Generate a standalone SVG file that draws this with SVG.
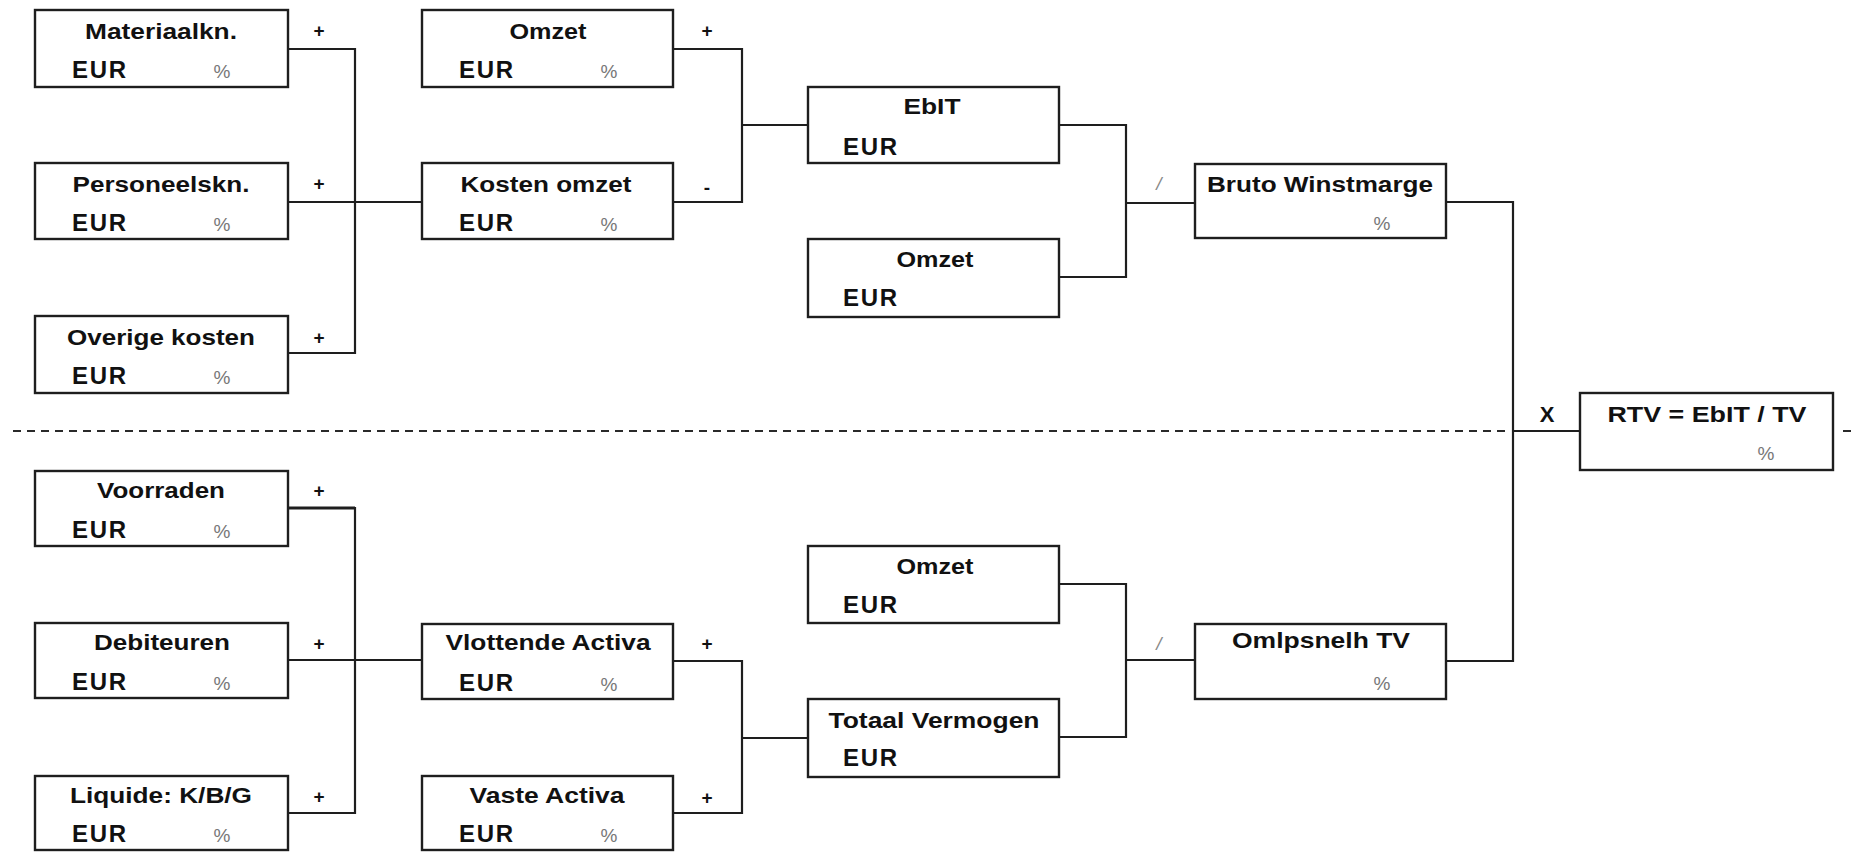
<svg xmlns="http://www.w3.org/2000/svg" width="1851" height="852" viewBox="0 0 1851 852">
<style>
  .box { fill: #ffffff; stroke: #1e1e1e; stroke-width: 2.4; }
  .conn { fill: none; stroke: #1e1e1e; stroke-width: 2.2; }
  .dash { fill: none; stroke: #2a2a2a; stroke-width: 2; stroke-dasharray: 8 6; }
  .title { font-family: "Liberation Sans", Arial, sans-serif; font-weight: bold; font-size: 22.5px; fill: #111; text-anchor: middle; }
  .eur { font-family: "Liberation Sans", Arial, sans-serif; font-weight: bold; font-size: 24px; fill: #111; }
  .pct { font-family: "Liberation Sans", Arial, sans-serif; font-size: 19px; fill: #777; text-anchor: middle; }
  .op { font-family: "Liberation Sans", Arial, sans-serif; font-weight: bold; font-size: 19px; fill: #111; text-anchor: middle; }
  .slash { font-family: "Liberation Sans", Arial, sans-serif; font-size: 19px; fill: #888; text-anchor: middle; }
  .x { font-family: "Liberation Sans", Arial, sans-serif; font-weight: bold; font-size: 22px; fill: #111; text-anchor: middle; }
</style>
<rect width="1851" height="852" fill="#ffffff"/>

<g id="connectors">
  <path class="dash" d="M13 431 H1507 M1843 431 H1851"/>
  <path class="conn" d="M288 49 H355 V353 H288 M288 202 H422"/>
  <path class="conn" d="M673 49 H742 V202 H673 M742 125 H808"/>
  <path class="conn" d="M1059 125 H1126 V277 H1059 M1126 203 H1195"/>
  <path class="conn" d="M1446 202 H1513 V661 H1446 M1513 431 H1580"/>
  <path class="conn" d="M288 508 H355 V813 H288 M288 660 H422"/>
  <path class="conn" style="stroke-width:3" d="M288 508 H355"/>
  <path class="conn" d="M673 661 H742 V813 H673 M742 738 H808"/>
  <path class="conn" d="M1059 584 H1126 V737 H1059 M1126 660 H1195"/>
</g>

<g id="operators">
  <text class="op" x="319" y="37">+</text>
  <text class="op" x="319" y="190">+</text>
  <text class="op" x="319" y="344">+</text>
  <text class="op" x="319" y="497">+</text>
  <text class="op" x="319" y="650">+</text>
  <text class="op" x="319" y="803">+</text>
  <text class="op" x="707" y="37">+</text>
  <text class="op" x="707" y="194">-</text>
  <text class="op" x="707" y="650">+</text>
  <text class="op" x="707" y="804">+</text>
  <text class="slash" x="1159" y="190" font-style="italic">/</text>
  <text class="slash" x="1159" y="650" font-style="italic">/</text>
  <text class="x" x="1547" y="422">X</text>
</g>

<g id="materiaalkn">
  <rect class="box" x="35" y="10" width="253" height="77"/>
  <text class="title" x="161" y="39" textLength="152" lengthAdjust="spacingAndGlyphs">Materiaalkn.</text>
  <text class="eur" x="72" y="78" textLength="54">EUR</text>
  <text class="pct" x="222" y="78">%</text>
</g>
<g id="personeelskn">
  <rect class="box" x="35" y="163" width="253" height="76"/>
  <text class="title" x="161" y="192" textLength="177" lengthAdjust="spacingAndGlyphs">Personeelskn.</text>
  <text class="eur" x="72" y="231" textLength="54">EUR</text>
  <text class="pct" x="222" y="231">%</text>
</g>
<g id="overige-kosten">
  <rect class="box" x="35" y="316" width="253" height="77"/>
  <text class="title" x="161" y="345" textLength="188" lengthAdjust="spacingAndGlyphs">Overige kosten</text>
  <text class="eur" x="72" y="384" textLength="54">EUR</text>
  <text class="pct" x="222" y="384">%</text>
</g>
<g id="voorraden">
  <rect class="box" x="35" y="471" width="253" height="75"/>
  <text class="title" x="161" y="498" textLength="128" lengthAdjust="spacingAndGlyphs">Voorraden</text>
  <text class="eur" x="72" y="538" textLength="54">EUR</text>
  <text class="pct" x="222" y="538">%</text>
</g>
<g id="debiteuren">
  <rect class="box" x="35" y="623" width="253" height="75"/>
  <text class="title" x="162" y="650" textLength="136" lengthAdjust="spacingAndGlyphs">Debiteuren</text>
  <text class="eur" x="72" y="690" textLength="54">EUR</text>
  <text class="pct" x="222" y="690">%</text>
</g>
<g id="liquide">
  <rect class="box" x="35" y="776" width="253" height="74"/>
  <text class="title" x="161" y="803" textLength="182" lengthAdjust="spacingAndGlyphs">Liquide: K/B/G</text>
  <text class="eur" x="72" y="842" textLength="54">EUR</text>
  <text class="pct" x="222" y="842">%</text>
</g>

<g id="omzet-1">
  <rect class="box" x="422" y="10" width="251" height="77"/>
  <text class="title" x="548" y="39" textLength="77" lengthAdjust="spacingAndGlyphs">Omzet</text>
  <text class="eur" x="459" y="78" textLength="54">EUR</text>
  <text class="pct" x="609" y="78">%</text>
</g>
<g id="kosten-omzet">
  <rect class="box" x="422" y="163" width="251" height="76"/>
  <text class="title" x="546" y="192" textLength="171" lengthAdjust="spacingAndGlyphs">Kosten omzet</text>
  <text class="eur" x="459" y="231" textLength="54">EUR</text>
  <text class="pct" x="609" y="231">%</text>
</g>
<g id="vlottende-activa">
  <rect class="box" x="422" y="624" width="251" height="75"/>
  <text class="title" x="548" y="650" textLength="205" lengthAdjust="spacingAndGlyphs">Vlottende Activa</text>
  <text class="eur" x="459" y="691" textLength="54">EUR</text>
  <text class="pct" x="609" y="691">%</text>
</g>
<g id="vaste-activa">
  <rect class="box" x="422" y="776" width="251" height="74"/>
  <text class="title" x="547" y="803" textLength="155" lengthAdjust="spacingAndGlyphs">Vaste Activa</text>
  <text class="eur" x="459" y="842" textLength="54">EUR</text>
  <text class="pct" x="609" y="842">%</text>
</g>

<g id="ebit">
  <rect class="box" x="808" y="87" width="251" height="76"/>
  <text class="title" x="932" y="114" textLength="57" lengthAdjust="spacingAndGlyphs">EbIT</text>
  <text class="eur" x="843" y="155" textLength="54">EUR</text>
</g>
<g id="omzet-2">
  <rect class="box" x="808" y="239" width="251" height="78"/>
  <text class="title" x="935" y="267" textLength="77" lengthAdjust="spacingAndGlyphs">Omzet</text>
  <text class="eur" x="843" y="306" textLength="54">EUR</text>
</g>
<g id="omzet-3">
  <rect class="box" x="808" y="546" width="251" height="77"/>
  <text class="title" x="935" y="574" textLength="77" lengthAdjust="spacingAndGlyphs">Omzet</text>
  <text class="eur" x="843" y="613" textLength="54">EUR</text>
</g>
<g id="totaal-vermogen">
  <rect class="box" x="808" y="699" width="251" height="78"/>
  <text class="title" x="934" y="728" textLength="211" lengthAdjust="spacingAndGlyphs">Totaal Vermogen</text>
  <text class="eur" x="843" y="766" textLength="54">EUR</text>
</g>

<g id="bruto-winstmarge">
  <rect class="box" x="1195" y="164" width="251" height="74"/>
  <text class="title" x="1320" y="192" textLength="226" lengthAdjust="spacingAndGlyphs">Bruto Winstmarge</text>
  <text class="pct" x="1382" y="230">%</text>
</g>
<g id="omlpsnelh-tv">
  <rect class="box" x="1195" y="624" width="251" height="75"/>
  <text class="title" x="1321" y="648" textLength="178" lengthAdjust="spacingAndGlyphs">Omlpsnelh TV</text>
  <text class="pct" x="1382" y="690">%</text>
</g>

<g id="rtv">
  <rect class="box" x="1580" y="393" width="253" height="77"/>
  <text class="title" x="1707" y="422" textLength="199" lengthAdjust="spacingAndGlyphs">RTV = EbIT / TV</text>
  <text class="pct" x="1766" y="460">%</text>
</g>
</svg>
